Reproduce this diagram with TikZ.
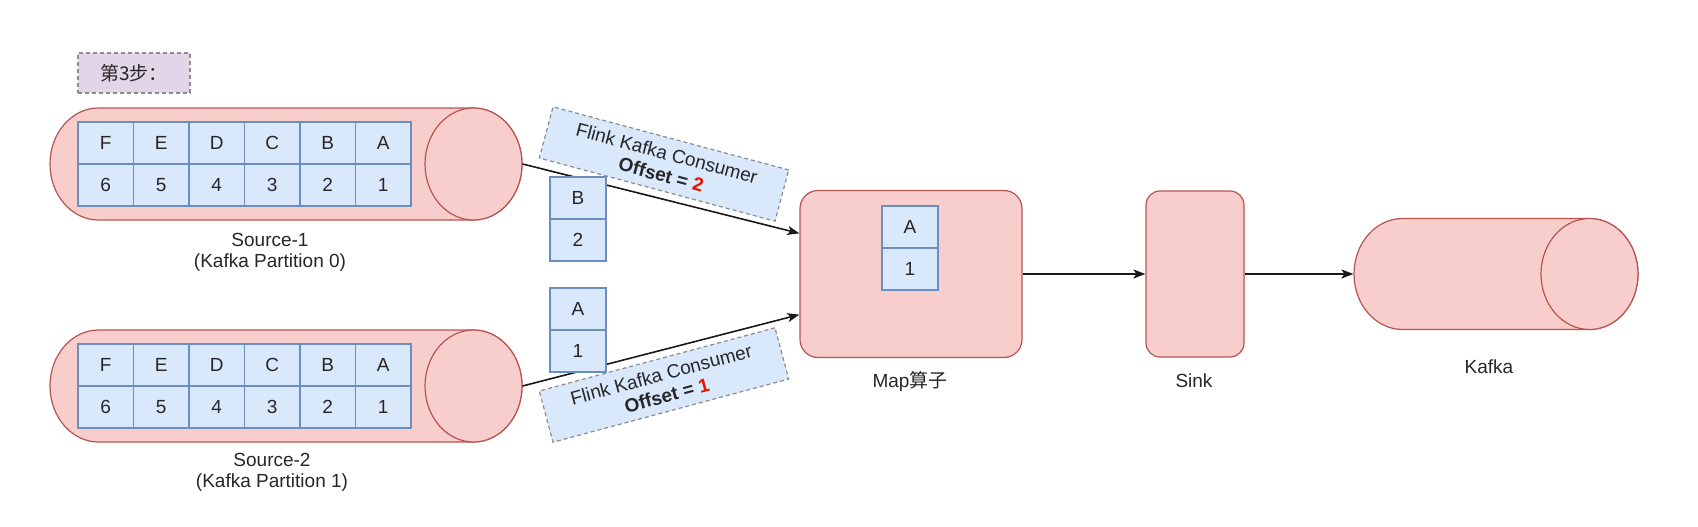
\documentclass[tikz,border=0pt]{standalone}
\usepackage{fontspec}
\setmainfont{Liberation Sans}
\newfontfamily\cjk{Noto Sans CJK SC}
\usetikzlibrary{arrows.meta,positioning}
\definecolor{pinkfill}{HTML}{F8CECC}
\definecolor{pinkline}{HTML}{B85450}
\definecolor{bluefill}{HTML}{DAE8FC}
\definecolor{blueline}{HTML}{6C8EBF}
\definecolor{lilac}{HTML}{E1D5E7}
\definecolor{offred}{HTML}{E51400}

\begin{document}
\begin{tikzpicture}[
    x=1pt, y=1pt,
    line width=1.2pt, % line style
    > = {Stealth[length=12pt,width=9pt,inset=3pt]}, % arrow head style
    font=\fontsize{19}{21}\selectfont,
    text=black!85,
    cyl/.style={fill=pinkfill, draw=pinkline},
    op/.style={fill=pinkfill, draw=pinkline, rounded corners=18pt, inner sep=0pt},
    cell/.style={fill=bluefill, draw=blueline, minimum width=55.5pt, minimum height=42pt, inner sep=0pt, outer sep=0pt},
    tag/.style={fill=bluefill, draw=black!45, dash pattern=on 4pt off 3pt, minimum width=244pt, minimum height=53pt, align=center, inner sep=0pt, font=\fontsize{19}{22}\selectfont},
    link/.style={->, line width=1.6pt, draw=black!90},
]
\useasboundingbox (0,0) rectangle (1698,-527);

% partitions and the kafka topic
\foreach \nm/\xa/\xb/\yc/\ry in {src1/50/522/-164/56, src2/50/522/-386/56, kafka/1354/1638/-274/55.5}{
    \draw[cyl] (\xa+48.5,\yc+\ry) -- (\xb-48.5,\yc+\ry) arc[start angle=90, end angle=-90, x radius=48.5, y radius=\ry]
        -- (\xa+48.5,\yc-\ry) arc[start angle=270, end angle=90, x radius=48.5, y radius=\ry] -- cycle;
    \draw[cyl] (\xb-48.5,\yc) ellipse[x radius=48.5, y radius=\ry];
    \node[inner sep=0pt, minimum width={(\xb-\xa)*1pt}, minimum height={2*\ry*1pt}] (\nm) at ({(\xa+\xb)/2},\yc) {};
}

% records in each partition
\foreach \s/\yt in {1/-143, 2/-365}{
    \foreach \l/\n [count=\i] in {F/6, E/5, D/4, C/3, B/2, A/1}{
        \node[cell] (t\s-\l) at ({78+55.5*(\i-0.5)},\yt) {\l};
        \node[cell, below=0pt of t\s-\l] (t\s-\n) {\n};
    }
}

\node[fill=lilac, draw=black!45, dash pattern=on 4pt off 3pt, minimum width=112pt, minimum height=40pt] (step3) at (134,-73) {\cjk 第3步：};

\node[op, minimum width=222pt, minimum height=167pt] (map) at (911,-274) {};
\node[op, rounded corners=14pt, minimum width=98pt, minimum height=166pt] (sink) at (1195,-274) {};

\draw[link] (src1.east) -- (map.160);
\draw[link] (src2.east) -- (map.200);
\draw[link] (map.east) -- (sink.west);
\draw[link] (sink.east) -- (kafka.west);

% records on the way
\node[cell, minimum width=56pt] (fly-B) at (578,-198) {B};
\node[cell, minimum width=56pt, below=0pt of fly-B] (fly-2) {2};
\node[cell, minimum width=56pt] (fly-A) at (578,-309) {A};
\node[cell, minimum width=56pt, below=0pt of fly-A] (fly-1) {1};
\node[cell, minimum width=56pt] (map-A) at (910,-227) {A};
\node[cell, minimum width=56pt, below=0pt of map-A] (map-1) {1};

\node[tag, rotate=-15] (off1) at (664,-164) {Flink Kafka Consumer\\\textbf{Offset = \textcolor{offred}{2}}};
\node[tag, rotate=15] (off2) at (664,-385) {Flink Kafka Consumer\\\textbf{Offset = \textcolor{offred}{1}}};

\node[align=center] (src1lbl) at (270,-252) {Source-1\\(Kafka Partition 0)};
\node[align=center] (src2lbl) at (272,-472) {Source-2\\(Kafka Partition 1)};
\node (maplbl) at (910,-381) {Map{\cjk 算子}};
\node (sinklbl) at (1194,-381) {Sink};
\node (kafkalbl) at (1489,-367) {Kafka};
\end{tikzpicture}
\end{document}
